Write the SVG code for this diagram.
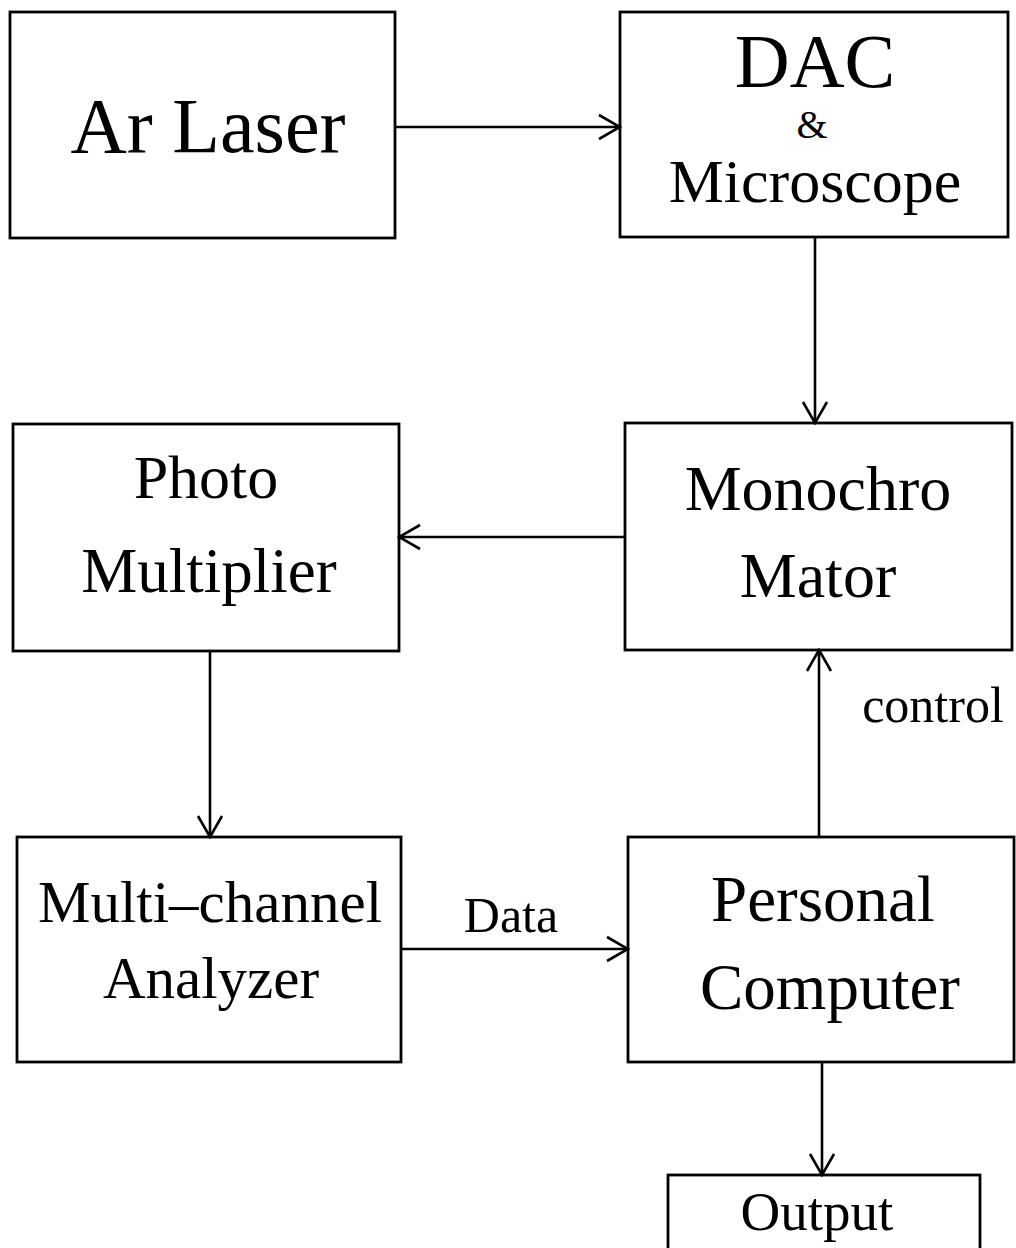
<svg xmlns="http://www.w3.org/2000/svg" width="1016" height="1248" viewBox="0 0 1016 1248">
<style>
.box{fill:none;stroke:#000;stroke-width:2.8}
.t{font-family:"Liberation Serif","Times New Roman",serif;fill:#000;text-anchor:middle}
.c{stroke:#000;stroke-width:2.6;fill:none}
</style>
<defs>
<marker id="arr" viewBox="0 0 24 28" refX="22" refY="14" markerWidth="24" markerHeight="28" markerUnits="userSpaceOnUse" orient="auto">
<path d="M1,2 L22,14 L1,26" fill="none" stroke="#000" stroke-width="2.6"/>
</marker>
</defs>
<rect width="1016" height="1248" fill="#fff"/>
<g id="ar-laser">
<rect class="box" x="10" y="12" width="385" height="226"/>
<text class="t" x="208" y="152" font-size="78">Ar Laser</text>
</g>
<g id="dac-microscope">
<rect class="box" x="620" y="12" width="388" height="225"/>
<text class="t" x="815" y="87" font-size="76">DAC</text>
<text class="t" x="812" y="138" font-size="40">&amp;</text>
<text class="t" x="815" y="202" font-size="62">Microscope</text>
</g>
<g id="monochromator">
<rect class="box" x="625" y="423" width="387" height="227"/>
<text class="t" x="818" y="510" font-size="64">Monochro</text>
<text class="t" x="818" y="597" font-size="64">Mator</text>
</g>
<g id="photo-multiplier">
<rect class="box" x="13" y="424" width="386" height="227"/>
<text class="t" x="206" y="498" font-size="62">Photo</text>
<text class="t" x="209" y="592" font-size="63">Multiplier</text>
</g>
<g id="multi-channel-analyzer">
<rect class="box" x="17" y="837" width="384" height="225"/>
<text class="t" x="210" y="922" font-size="59">Multi–channel</text>
<text class="t" x="211" y="998" font-size="59">Analyzer</text>
</g>
<g id="personal-computer">
<rect class="box" x="628" y="837" width="386" height="225"/>
<text class="t" x="823" y="921" font-size="65">Personal</text>
<text class="t" x="830" y="1009" font-size="65">Computer</text>
</g>
<g id="output">
<rect class="box" x="668" y="1175" width="312" height="90"/>
<text class="t" x="817" y="1230" font-size="55">Output</text>
</g>
<g id="connectors">
<line class="c" x1="395" y1="127" x2="620" y2="127" marker-end="url(#arr)"/>
<line class="c" x1="815" y1="237" x2="815" y2="423" marker-end="url(#arr)"/>
<line class="c" x1="625" y1="537" x2="399" y2="537" marker-end="url(#arr)"/>
<line class="c" x1="210" y1="651" x2="210" y2="837" marker-end="url(#arr)"/>
<line class="c" x1="401" y1="949" x2="628" y2="949" marker-end="url(#arr)"/>
<line class="c" x1="819" y1="837" x2="819" y2="650" marker-end="url(#arr)"/>
<line class="c" x1="822" y1="1062" x2="822" y2="1175" marker-end="url(#arr)"/>
<text class="t" x="511" y="932" font-size="50">Data</text>
<text class="t" x="933" y="722" font-size="50">control</text>
</g>
</svg>
